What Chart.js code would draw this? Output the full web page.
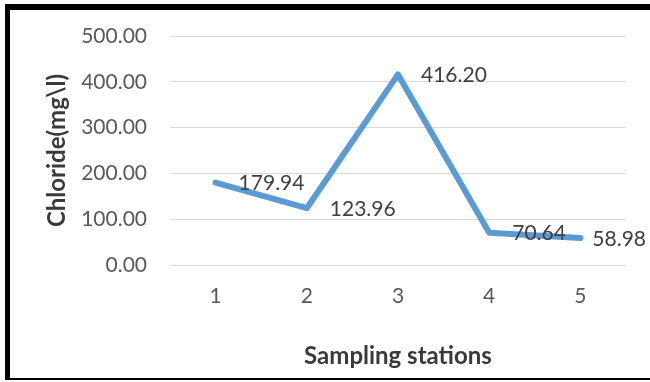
<!DOCTYPE html>
<html>
<head>
<meta charset="utf-8">
<script src="https://cdn.jsdelivr.net/npm/chart.js@4/dist/chart.umd.min.js"></script>
<style>
	body { margin: 0; background: #fff; }
	#wrap { position: relative; width: 650px; height: 382px; }
	#frame {
		position: absolute; left: 5px; top: 4px; width: 645px; height: 376px;
		border-top: 6px solid #000; border-left: 5px solid #000; border-bottom: 2px solid #000;
		box-sizing: border-box; pointer-events: none;
	}
</style>
</head>
<body>
<div id="wrap">
	<canvas id="line-chartcanvas" width="650" height="382"></canvas>
	<div id="frame"></div>
</div>
<script>
var stations = ["1", "2", "3", "4", "5"];
var chloride = [179.94, 123.96, 416.20, 70.64, 58.98];
var yTicks = [0, 100, 200, 300, 400, 500];

// value labels to the right of each point, kept inside the frame
var pointLabels = {
	id: "pointLabels",
	afterDatasetsDraw: function (chart) {
		var ctx = chart.ctx;
		var meta = chart.getDatasetMeta(0);
		ctx.save();
		ctx.font = "21px Lato";
		ctx.fillStyle = "#404040";
		ctx.textAlign = "left";
		ctx.textBaseline = "middle";
		for (var i = 0; i < meta.data.length; i++) {
			var pt = meta.data[i];
			var txt = chloride[i].toFixed(2);
			var x = Math.min(pt.x + 23, 646 - ctx.measureText(txt).width);
			ctx.fillText(txt, x, pt.y + 1);
		}
		ctx.restore();
	}
};

var ctx = document.getElementById("line-chartcanvas");

var data = {
	labels: stations,
	datasets: [
		{
			label: "Chloride",
			data: chloride,
			borderColor: "#5B9BD5",
			backgroundColor: "#5B9BD5",
			borderWidth: 6,
			fill: false,
			tension: 0,
			pointRadius: 0,
			borderCapStyle: "round",
			borderJoinStyle: "round"
		}
	]
};

var options = {
	responsive: false,
	animation: false,
	layout: { padding: { left: 0, right: 24, top: 36, bottom: 0 } },
	plugins: {
		legend: { display: false },
		tooltip: { enabled: false }
	},
	scales: {
		x: {
			offset: true,
			grid: { display: false, drawTicks: false },
			border: { display: false },
			ticks: { color: "#595959", font: { family: "Lato", size: 21 }, padding: 19 },
			title: {
				display: true,
				text: "Sampling stations",
				color: "#3a3a3a",
				font: { family: "Lato", size: 24, weight: "bold" },
				padding: { top: 0, bottom: 11 }
			},
			afterFit: function (scale) { scale.height = 117; }
		},
		y: {
			min: 0,
			max: 500,
			afterBuildTicks: function (scale) {
				scale.ticks = yTicks.map(function (v) { return { value: v }; });
			},
			grid: { color: "#d9d9d9", lineWidth: 1, drawTicks: false },
			border: { display: false },
			ticks: {
				color: "#595959",
				font: { family: "Lato", size: 21 },
				padding: 23,
				callback: function (v) { return Number(v).toFixed(2); }
			},
			title: {
				display: true,
				text: "Chloride(mg\\l)",
				color: "#3a3a3a",
				font: { family: "Lato", size: 24, weight: "bold" },
				padding: { top: 43, bottom: 0 }
			},
			afterFit: function (scale) { scale.width = 170; }
		}
	}
};

var chart = new Chart(ctx, {
	type: "line",
	data: data,
	options: options,
	plugins: [pointLabels]
});
</script>
</body>
</html>
